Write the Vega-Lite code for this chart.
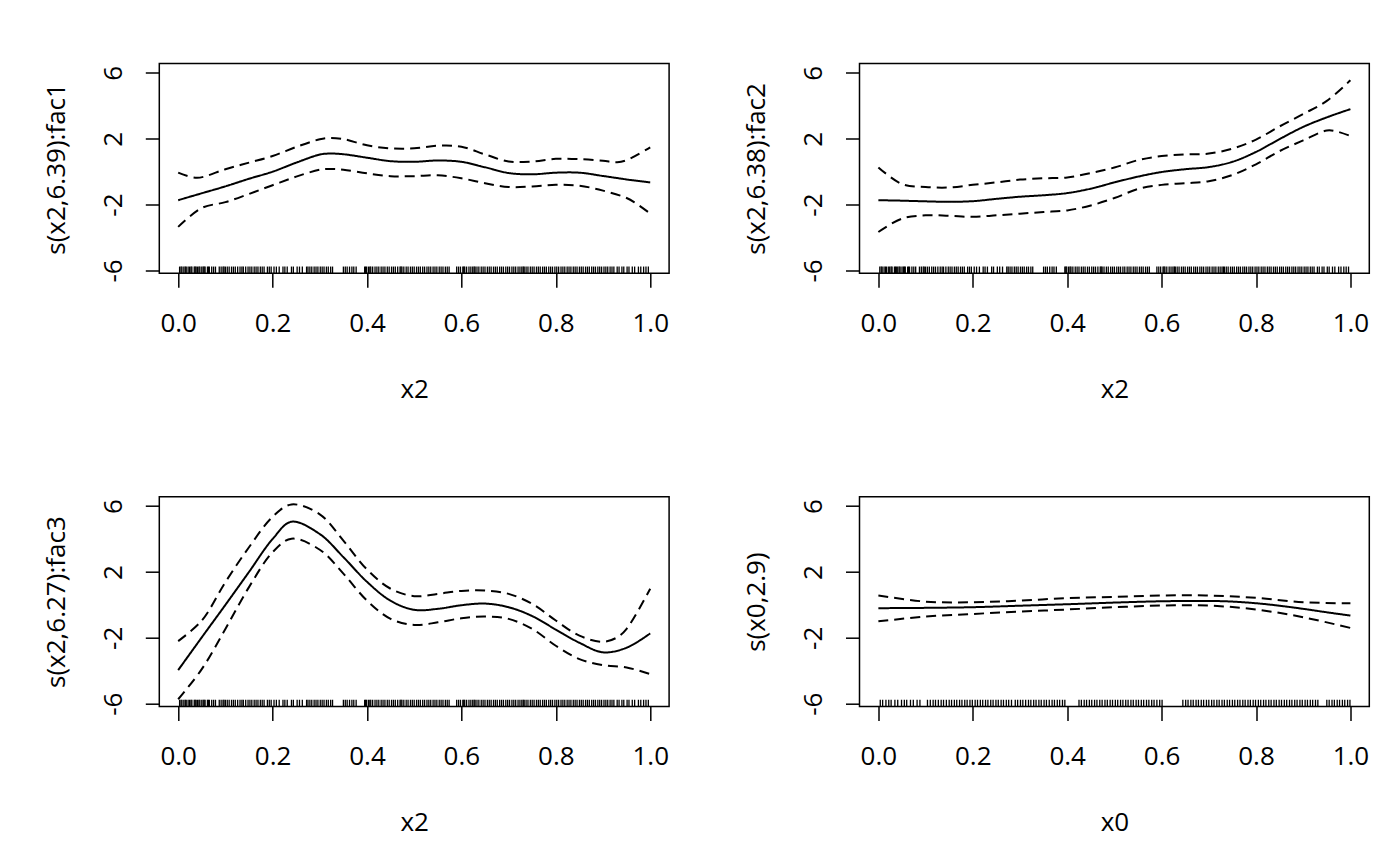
{
  "$schema": "https://vega.github.io/schema/vega-lite/v6.json",
  "autosize": {"type": "none"},
  "padding": {"left": 159.3, "top": 63.5, "right": 1240.7, "bottom": 802.5},
  "background": "white",
  "config": {
    "font": "Open Sans",
    "view": {"stroke": "black", "strokeWidth": 1.5, "fill": "white"},
    "axis": {
      "domain": false, "grid": false, "tickColor": "black", "tickWidth": 1.5, "tickSize": 14,
      "labelColor": "black", "labelFontSize": 26, "labelFont": "Open Sans", "labelFlush": false, "labelOverlap": false,
      "titleColor": "black", "titleFontSize": 26, "titleFont": "Open Sans", "titleFontWeight": "normal"
    },
    "axisX": {"labelBaseline": "alphabetic", "labelPadding": 43.7, "titleBaseline": "alphabetic", "titleY": 124, "titleX": 254.9, "titleAlign": "center"},
    "axisY": {"labelAngle": -90, "labelAlign": "center", "labelBaseline": "alphabetic", "labelPadding": 24.3, "titleAngle": -90, "titleBaseline": "alphabetic", "titleX": -95, "titleY": 104.9, "titleAlign": "center"}
  },
  "bounds": "flush",
  "columns": 2,
  "spacing": {"row": 223.2, "column": 190.2},
  "datasets": {
    "curves": [
      {"p":1,"s":"fit","x":0,"y":-1.73},{"p":1,"s":"fit","x":0.05,"y":-1.31},{"p":1,"s":"fit","x":0.1,"y":-0.89},{"p":1,"s":"fit","x":0.15,"y":-0.43},{"p":1,"s":"fit","x":0.2,"y":0},{"p":1,"s":"fit","x":0.25,"y":0.55},{"p":1,"s":"fit","x":0.3,"y":1.04},{"p":1,"s":"fit","x":0.32,"y":1.1},{"p":1,"s":"fit","x":0.35,"y":1.06},{"p":1,"s":"fit","x":0.4,"y":0.85},{"p":1,"s":"fit","x":0.45,"y":0.64},{"p":1,"s":"fit","x":0.5,"y":0.6},{"p":1,"s":"fit","x":0.55,"y":0.68},{"p":1,"s":"fit","x":0.6,"y":0.6},{"p":1,"s":"fit","x":0.65,"y":0.27},{"p":1,"s":"fit","x":0.7,"y":-0.08},{"p":1,"s":"fit","x":0.75,"y":-0.16},{"p":1,"s":"fit","x":0.8,"y":-0.06},{"p":1,"s":"fit","x":0.85,"y":-0.06},{"p":1,"s":"fit","x":0.9,"y":-0.26},{"p":1,"s":"fit","x":0.95,"y":-0.47},{"p":1,"s":"fit","x":1.0,"y":-0.65},
      {"p":1,"s":"upper","x":0,"y":-0.06},{"p":1,"s":"upper","x":0.04,"y":-0.37},{"p":1,"s":"upper","x":0.1,"y":0.15},{"p":1,"s":"upper","x":0.15,"y":0.55},{"p":1,"s":"upper","x":0.2,"y":0.95},{"p":1,"s":"upper","x":0.25,"y":1.5},{"p":1,"s":"upper","x":0.3,"y":1.97},{"p":1,"s":"upper","x":0.32,"y":2.05},{"p":1,"s":"upper","x":0.35,"y":1.98},{"p":1,"s":"upper","x":0.4,"y":1.6},{"p":1,"s":"upper","x":0.45,"y":1.42},{"p":1,"s":"upper","x":0.5,"y":1.42},{"p":1,"s":"upper","x":0.55,"y":1.58},{"p":1,"s":"upper","x":0.6,"y":1.52},{"p":1,"s":"upper","x":0.65,"y":1.05},{"p":1,"s":"upper","x":0.7,"y":0.62},{"p":1,"s":"upper","x":0.75,"y":0.62},{"p":1,"s":"upper","x":0.8,"y":0.78},{"p":1,"s":"upper","x":0.85,"y":0.76},{"p":1,"s":"upper","x":0.9,"y":0.66},{"p":1,"s":"upper","x":0.93,"y":0.57},{"p":1,"s":"upper","x":0.95,"y":0.7},{"p":1,"s":"upper","x":1.0,"y":1.48},
      {"p":1,"s":"lower","x":0,"y":-3.35},{"p":1,"s":"lower","x":0.05,"y":-2.2},{"p":1,"s":"lower","x":0.1,"y":-1.85},{"p":1,"s":"lower","x":0.15,"y":-1.35},{"p":1,"s":"lower","x":0.2,"y":-0.82},{"p":1,"s":"lower","x":0.25,"y":-0.3},{"p":1,"s":"lower","x":0.3,"y":0.12},{"p":1,"s":"lower","x":0.32,"y":0.17},{"p":1,"s":"lower","x":0.35,"y":0.12},{"p":1,"s":"lower","x":0.4,"y":-0.1},{"p":1,"s":"lower","x":0.45,"y":-0.27},{"p":1,"s":"lower","x":0.5,"y":-0.27},{"p":1,"s":"lower","x":0.55,"y":-0.22},{"p":1,"s":"lower","x":0.6,"y":-0.4},{"p":1,"s":"lower","x":0.65,"y":-0.7},{"p":1,"s":"lower","x":0.7,"y":-0.93},{"p":1,"s":"lower","x":0.75,"y":-0.9},{"p":1,"s":"lower","x":0.8,"y":-0.8},{"p":1,"s":"lower","x":0.85,"y":-0.85},{"p":1,"s":"lower","x":0.9,"y":-1.15},{"p":1,"s":"lower","x":0.95,"y":-1.6},{"p":1,"s":"lower","x":0.97,"y":-1.93},{"p":1,"s":"lower","x":1.0,"y":-2.54},

      {"p":2,"s":"fit","x":0,"y":-1.73},{"p":2,"s":"fit","x":0.05,"y":-1.76},{"p":2,"s":"fit","x":0.1,"y":-1.8},{"p":2,"s":"fit","x":0.15,"y":-1.83},{"p":2,"s":"fit","x":0.2,"y":-1.79},{"p":2,"s":"fit","x":0.25,"y":-1.65},{"p":2,"s":"fit","x":0.3,"y":-1.52},{"p":2,"s":"fit","x":0.35,"y":-1.43},{"p":2,"s":"fit","x":0.4,"y":-1.3},{"p":2,"s":"fit","x":0.45,"y":-1.03},{"p":2,"s":"fit","x":0.5,"y":-0.65},{"p":2,"s":"fit","x":0.55,"y":-0.3},{"p":2,"s":"fit","x":0.6,"y":-0.02},{"p":2,"s":"fit","x":0.65,"y":0.15},{"p":2,"s":"fit","x":0.7,"y":0.28},{"p":2,"s":"fit","x":0.75,"y":0.6},{"p":2,"s":"fit","x":0.8,"y":1.2},{"p":2,"s":"fit","x":0.85,"y":1.98},{"p":2,"s":"fit","x":0.9,"y":2.72},{"p":2,"s":"fit","x":0.95,"y":3.3},{"p":2,"s":"fit","x":1.0,"y":3.8},
      {"p":2,"s":"upper","x":0,"y":0.26},{"p":2,"s":"upper","x":0.05,"y":-0.75},{"p":2,"s":"upper","x":0.1,"y":-0.93},{"p":2,"s":"upper","x":0.15,"y":-0.96},{"p":2,"s":"upper","x":0.2,"y":-0.8},{"p":2,"s":"upper","x":0.25,"y":-0.65},{"p":2,"s":"upper","x":0.3,"y":-0.48},{"p":2,"s":"upper","x":0.35,"y":-0.4},{"p":2,"s":"upper","x":0.4,"y":-0.35},{"p":2,"s":"upper","x":0.45,"y":-0.08},{"p":2,"s":"upper","x":0.5,"y":0.25},{"p":2,"s":"upper","x":0.55,"y":0.7},{"p":2,"s":"upper","x":0.6,"y":0.95},{"p":2,"s":"upper","x":0.65,"y":1.05},{"p":2,"s":"upper","x":0.7,"y":1.1},{"p":2,"s":"upper","x":0.75,"y":1.4},{"p":2,"s":"upper","x":0.8,"y":1.95},{"p":2,"s":"upper","x":0.85,"y":2.75},{"p":2,"s":"upper","x":0.9,"y":3.5},{"p":2,"s":"upper","x":0.95,"y":4.3},{"p":2,"s":"upper","x":1.0,"y":5.55},
      {"p":2,"s":"lower","x":0,"y":-3.66},{"p":2,"s":"lower","x":0.05,"y":-2.85},{"p":2,"s":"lower","x":0.1,"y":-2.65},{"p":2,"s":"lower","x":0.15,"y":-2.68},{"p":2,"s":"lower","x":0.2,"y":-2.74},{"p":2,"s":"lower","x":0.25,"y":-2.65},{"p":2,"s":"lower","x":0.3,"y":-2.55},{"p":2,"s":"lower","x":0.35,"y":-2.45},{"p":2,"s":"lower","x":0.4,"y":-2.35},{"p":2,"s":"lower","x":0.45,"y":-2.05},{"p":2,"s":"lower","x":0.5,"y":-1.6},{"p":2,"s":"lower","x":0.55,"y":-1.05},{"p":2,"s":"lower","x":0.6,"y":-0.8},{"p":2,"s":"lower","x":0.65,"y":-0.7},{"p":2,"s":"lower","x":0.7,"y":-0.58},{"p":2,"s":"lower","x":0.75,"y":-0.2},{"p":2,"s":"lower","x":0.8,"y":0.45},{"p":2,"s":"lower","x":0.85,"y":1.25},{"p":2,"s":"lower","x":0.9,"y":1.9},{"p":2,"s":"lower","x":0.95,"y":2.5},{"p":2,"s":"lower","x":0.97,"y":2.45},{"p":2,"s":"lower","x":1.0,"y":2.17},

      {"p":3,"s":"fit","x":0,"y":-3.96},{"p":3,"s":"fit","x":0.05,"y":-1.97},{"p":3,"s":"fit","x":0.1,"y":0.0},{"p":3,"s":"fit","x":0.15,"y":2.0},{"p":3,"s":"fit","x":0.2,"y":4.0},{"p":3,"s":"fit","x":0.24,"y":5.05},{"p":3,"s":"fit","x":0.3,"y":4.3},{"p":3,"s":"fit","x":0.35,"y":2.9},{"p":3,"s":"fit","x":0.4,"y":1.4},{"p":3,"s":"fit","x":0.45,"y":0.25},{"p":3,"s":"fit","x":0.5,"y":-0.3},{"p":3,"s":"fit","x":0.55,"y":-0.24},{"p":3,"s":"fit","x":0.6,"y":-0.02},{"p":3,"s":"fit","x":0.65,"y":0.08},{"p":3,"s":"fit","x":0.7,"y":-0.14},{"p":3,"s":"fit","x":0.75,"y":-0.68},{"p":3,"s":"fit","x":0.8,"y":-1.5},{"p":3,"s":"fit","x":0.85,"y":-2.3},{"p":3,"s":"fit","x":0.9,"y":-2.88},{"p":3,"s":"fit","x":0.95,"y":-2.6},{"p":3,"s":"fit","x":1.0,"y":-1.73},
      {"p":3,"s":"upper","x":0,"y":-2.2},{"p":3,"s":"upper","x":0.05,"y":-0.95},{"p":3,"s":"upper","x":0.1,"y":1.38},{"p":3,"s":"upper","x":0.15,"y":3.5},{"p":3,"s":"upper","x":0.2,"y":5.35},{"p":3,"s":"upper","x":0.24,"y":6.1},{"p":3,"s":"upper","x":0.3,"y":5.5},{"p":3,"s":"upper","x":0.35,"y":3.9},{"p":3,"s":"upper","x":0.4,"y":2.15},{"p":3,"s":"upper","x":0.45,"y":0.98},{"p":3,"s":"upper","x":0.5,"y":0.53},{"p":3,"s":"upper","x":0.55,"y":0.67},{"p":3,"s":"upper","x":0.6,"y":0.85},{"p":3,"s":"upper","x":0.65,"y":0.87},{"p":3,"s":"upper","x":0.7,"y":0.67},{"p":3,"s":"upper","x":0.75,"y":0.06},{"p":3,"s":"upper","x":0.8,"y":-0.95},{"p":3,"s":"upper","x":0.85,"y":-1.87},{"p":3,"s":"upper","x":0.9,"y":-2.24},{"p":3,"s":"upper","x":0.93,"y":-1.97},{"p":3,"s":"upper","x":0.95,"y":-1.45},{"p":3,"s":"upper","x":1.0,"y":0.98},
      {"p":3,"s":"lower","x":0,"y":-5.73},{"p":3,"s":"lower","x":0.05,"y":-3.9},{"p":3,"s":"lower","x":0.1,"y":-1.46},{"p":3,"s":"lower","x":0.15,"y":1.08},{"p":3,"s":"lower","x":0.2,"y":3.2},{"p":3,"s":"lower","x":0.24,"y":4.02},{"p":3,"s":"lower","x":0.3,"y":3.35},{"p":3,"s":"lower","x":0.35,"y":1.9},{"p":3,"s":"lower","x":0.4,"y":0.26},{"p":3,"s":"lower","x":0.45,"y":-0.85},{"p":3,"s":"lower","x":0.5,"y":-1.22},{"p":3,"s":"lower","x":0.55,"y":-1.06},{"p":3,"s":"lower","x":0.6,"y":-0.81},{"p":3,"s":"lower","x":0.65,"y":-0.71},{"p":3,"s":"lower","x":0.7,"y":-0.85},{"p":3,"s":"lower","x":0.75,"y":-1.46},{"p":3,"s":"lower","x":0.8,"y":-2.48},{"p":3,"s":"lower","x":0.85,"y":-3.29},{"p":3,"s":"lower","x":0.9,"y":-3.66},{"p":3,"s":"lower","x":0.95,"y":-3.8},{"p":3,"s":"lower","x":1.0,"y":-4.2},

      {"p":4,"s":"fit","x":0,"y":-0.2},{"p":4,"s":"fit","x":0.1,"y":-0.18},{"p":4,"s":"fit","x":0.2,"y":-0.14},{"p":4,"s":"fit","x":0.3,"y":-0.05},{"p":4,"s":"fit","x":0.4,"y":0.04},{"p":4,"s":"fit","x":0.5,"y":0.14},{"p":4,"s":"fit","x":0.6,"y":0.22},{"p":4,"s":"fit","x":0.7,"y":0.24},{"p":4,"s":"fit","x":0.75,"y":0.2},{"p":4,"s":"fit","x":0.8,"y":0.1},{"p":4,"s":"fit","x":0.85,"y":-0.05},{"p":4,"s":"fit","x":0.9,"y":-0.24},{"p":4,"s":"fit","x":0.95,"y":-0.45},{"p":4,"s":"fit","x":1.0,"y":-0.65},
      {"p":4,"s":"upper","x":0,"y":0.57},{"p":4,"s":"upper","x":0.1,"y":0.2},{"p":4,"s":"upper","x":0.2,"y":0.16},{"p":4,"s":"upper","x":0.3,"y":0.26},{"p":4,"s":"upper","x":0.4,"y":0.41},{"p":4,"s":"upper","x":0.5,"y":0.49},{"p":4,"s":"upper","x":0.6,"y":0.57},{"p":4,"s":"upper","x":0.7,"y":0.57},{"p":4,"s":"upper","x":0.8,"y":0.43},{"p":4,"s":"upper","x":0.9,"y":0.16},{"p":4,"s":"upper","x":1.0,"y":0.1},
      {"p":4,"s":"lower","x":0,"y":-1.0},{"p":4,"s":"lower","x":0.1,"y":-0.71},{"p":4,"s":"lower","x":0.2,"y":-0.55},{"p":4,"s":"lower","x":0.3,"y":-0.41},{"p":4,"s":"lower","x":0.4,"y":-0.28},{"p":4,"s":"lower","x":0.5,"y":-0.14},{"p":4,"s":"lower","x":0.6,"y":-0.04},{"p":4,"s":"lower","x":0.7,"y":-0.04},{"p":4,"s":"lower","x":0.8,"y":-0.28},{"p":4,"s":"lower","x":0.9,"y":-0.75},{"p":4,"s":"lower","x":1.0,"y":-1.4}
    ],
    "rug2": [
      {"v":0.003},{"v":0.006},{"v":0.008},{"v":0.012},{"v":0.015},{"v":0.017},{"v":0.021},{"v":0.024},{"v":0.027},{"v":0.029},{"v":0.034},{"v":0.036},{"v":0.038},{"v":0.041},{"v":0.044},{"v":0.046},{"v":0.05},{"v":0.053},{"v":0.055},{"v":0.057},{"v":0.062},{"v":0.064},{"v":0.066},{"v":0.071},{"v":0.075},{"v":0.079},{"v":0.087},{"v":0.091},{"v":0.095},{"v":0.097},{"v":0.1},{"v":0.104},{"v":0.108},{"v":0.113},{"v":0.117},{"v":0.121},{"v":0.126},{"v":0.131},{"v":0.135},{"v":0.138},{"v":0.143},{"v":0.148},{"v":0.152},{"v":0.156},{"v":0.161},{"v":0.165},{"v":0.169},{"v":0.174},{"v":0.178},{"v":0.182},{"v":0.189},{"v":0.193},{"v":0.197},{"v":0.203},{"v":0.208},{"v":0.214},{"v":0.222},{"v":0.226},{"v":0.231},{"v":0.24},{"v":0.244},{"v":0.252},{"v":0.257},{"v":0.263},{"v":0.272},{"v":0.275},{"v":0.279},{"v":0.283},{"v":0.288},{"v":0.292},{"v":0.296},{"v":0.301},{"v":0.305},{"v":0.309},{"v":0.314},{"v":0.318},{"v":0.323},{"v":0.327},{"v":0.35},{"v":0.354},{"v":0.358},{"v":0.363},{"v":0.368},{"v":0.372},{"v":0.377},{"v":0.395},{"v":0.397},{"v":0.399},{"v":0.403},{"v":0.406},{"v":0.408},{"v":0.412},{"v":0.417},{"v":0.421},{"v":0.425},{"v":0.43},{"v":0.434},{"v":0.438},{"v":0.443},{"v":0.447},{"v":0.452},{"v":0.456},{"v":0.46},{"v":0.465},{"v":0.47},{"v":0.472},{"v":0.474},{"v":0.478},{"v":0.483},{"v":0.487},{"v":0.492},{"v":0.496},{"v":0.5},{"v":0.505},{"v":0.509},{"v":0.513},{"v":0.518},{"v":0.522},{"v":0.527},{"v":0.531},{"v":0.535},{"v":0.54},{"v":0.544},{"v":0.548},{"v":0.553},{"v":0.557},{"v":0.561},{"v":0.566},{"v":0.57},{"v":0.574},{"v":0.59},{"v":0.594},{"v":0.598},{"v":0.603},{"v":0.605},{"v":0.607},{"v":0.611},{"v":0.616},{"v":0.62},{"v":0.624},{"v":0.627},{"v":0.629},{"v":0.633},{"v":0.637},{"v":0.642},{"v":0.646},{"v":0.65},{"v":0.655},{"v":0.659},{"v":0.663},{"v":0.668},{"v":0.672},{"v":0.676},{"v":0.681},{"v":0.685},{"v":0.689},{"v":0.694},{"v":0.698},{"v":0.702},{"v":0.707},{"v":0.711},{"v":0.715},{"v":0.72},{"v":0.724},{"v":0.728},{"v":0.731},{"v":0.733},{"v":0.737},{"v":0.741},{"v":0.746},{"v":0.75},{"v":0.754},{"v":0.759},{"v":0.763},{"v":0.767},{"v":0.772},{"v":0.776},{"v":0.78},{"v":0.785},{"v":0.789},{"v":0.793},{"v":0.798},{"v":0.802},{"v":0.806},{"v":0.811},{"v":0.815},{"v":0.819},{"v":0.824},{"v":0.828},{"v":0.832},{"v":0.837},{"v":0.841},{"v":0.845},{"v":0.85},{"v":0.854},{"v":0.858},{"v":0.863},{"v":0.867},{"v":0.871},{"v":0.876},{"v":0.88},{"v":0.884},{"v":0.889},{"v":0.893},{"v":0.897},{"v":0.902},{"v":0.906},{"v":0.91},{"v":0.915},{"v":0.919},{"v":0.923},{"v":0.93},{"v":0.934},{"v":0.94},{"v":0.944},{"v":0.951},{"v":0.955},{"v":0.962},{"v":0.967},{"v":0.975},{"v":0.98},{"v":0.986},{"v":0.991},{"v":0.996}
    ],
    "rug0": [
      {"v":0.004},{"v":0.009},{"v":0.016},{"v":0.022},{"v":0.027},{"v":0.035},{"v":0.041},{"v":0.049},{"v":0.055},{"v":0.06},{"v":0.068},{"v":0.074},{"v":0.082},{"v":0.088},{"v":0.104},{"v":0.11},{"v":0.116},{"v":0.121},{"v":0.127},{"v":0.133},{"v":0.138},{"v":0.144},{"v":0.15},{"v":0.155},{"v":0.161},{"v":0.166},{"v":0.172},{"v":0.177},{"v":0.183},{"v":0.188},{"v":0.194},{"v":0.199},{"v":0.205},{"v":0.21},{"v":0.216},{"v":0.221},{"v":0.227},{"v":0.232},{"v":0.238},{"v":0.243},{"v":0.249},{"v":0.254},{"v":0.26},{"v":0.265},{"v":0.271},{"v":0.276},{"v":0.282},{"v":0.29},{"v":0.295},{"v":0.301},{"v":0.306},{"v":0.312},{"v":0.318},{"v":0.323},{"v":0.329},{"v":0.334},{"v":0.34},{"v":0.345},{"v":0.351},{"v":0.356},{"v":0.362},{"v":0.368},{"v":0.373},{"v":0.379},{"v":0.384},{"v":0.39},{"v":0.395},{"v":0.425},{"v":0.43},{"v":0.436},{"v":0.441},{"v":0.447},{"v":0.452},{"v":0.458},{"v":0.463},{"v":0.469},{"v":0.474},{"v":0.48},{"v":0.485},{"v":0.491},{"v":0.496},{"v":0.502},{"v":0.507},{"v":0.513},{"v":0.518},{"v":0.524},{"v":0.529},{"v":0.535},{"v":0.54},{"v":0.546},{"v":0.551},{"v":0.557},{"v":0.562},{"v":0.568},{"v":0.573},{"v":0.579},{"v":0.584},{"v":0.59},{"v":0.596},{"v":0.601},{"v":0.645},{"v":0.651},{"v":0.656},{"v":0.662},{"v":0.667},{"v":0.673},{"v":0.678},{"v":0.684},{"v":0.689},{"v":0.695},{"v":0.7},{"v":0.706},{"v":0.711},{"v":0.717},{"v":0.722},{"v":0.728},{"v":0.733},{"v":0.739},{"v":0.744},{"v":0.75},{"v":0.755},{"v":0.761},{"v":0.766},{"v":0.772},{"v":0.777},{"v":0.783},{"v":0.788},{"v":0.794},{"v":0.799},{"v":0.805},{"v":0.81},{"v":0.816},{"v":0.821},{"v":0.827},{"v":0.832},{"v":0.838},{"v":0.843},{"v":0.849},{"v":0.854},{"v":0.86},{"v":0.865},{"v":0.871},{"v":0.876},{"v":0.882},{"v":0.887},{"v":0.893},{"v":0.898},{"v":0.904},{"v":0.909},{"v":0.915},{"v":0.92},{"v":0.926},{"v":0.931},{"v":0.95},{"v":0.955},{"v":0.961},{"v":0.966},{"v":0.972},{"v":0.977},{"v":0.983},{"v":0.988},{"v":0.994},{"v":0.999}
    ]
  },
  "concat": [
    {
      "width": 509.8, "height": 209.8,
      "layer": [
        {"data": {"name": "rug2"}, "mark": {"type": "rule", "color": "black", "strokeWidth": 1.3},
         "encoding": {"x": {"field": "v", "type": "quantitative", "scale": {"domain": [-0.04, 1.04], "nice": false, "zero": false}, "axis": {"values": [0, 0.2, 0.4, 0.6, 0.8, 1.0], "format": ".1f", "title": "x2"}},
                      "y": {"datum": -6.17, "type": "quantitative", "scale": {"domain": [-6.17, 6.57], "nice": false, "zero": false}, "axis": {"values": [-6, -4, -2, 0, 2, 4, 6], "labelExpr": "abs(datum.value % 4) == 2 ? datum.value + '' : ''", "title": "s(x2,6.39):fac1"}},
                      "y2": {"datum": -5.76}}},
        {"data": {"name": "curves"}, "transform": [{"filter": "datum.p == 1"}], "mark": {"type": "line", "color": "black", "strokeWidth": 2, "interpolate": "catmull-rom"},
         "encoding": {"x": {"field": "x", "type": "quantitative"}, "y": {"field": "y", "type": "quantitative"}, "detail": {"field": "s"},
                      "strokeDash": {"field": "s", "type": "nominal", "scale": {"domain": ["fit", "upper", "lower"], "range": [[1, 0], [10, 6], [10, 6]]}, "legend": null}}}
      ]
    },
    {
      "width": 509.8, "height": 209.8,
      "layer": [
        {"data": {"name": "rug2"}, "mark": {"type": "rule", "color": "black", "strokeWidth": 1.3},
         "encoding": {"x": {"field": "v", "type": "quantitative", "scale": {"domain": [-0.04, 1.04], "nice": false, "zero": false}, "axis": {"values": [0, 0.2, 0.4, 0.6, 0.8, 1.0], "format": ".1f", "title": "x2"}},
                      "y": {"datum": -6.17, "type": "quantitative", "scale": {"domain": [-6.17, 6.57], "nice": false, "zero": false}, "axis": {"values": [-6, -4, -2, 0, 2, 4, 6], "labelExpr": "abs(datum.value % 4) == 2 ? datum.value + '' : ''", "title": "s(x2,6.38):fac2"}},
                      "y2": {"datum": -5.76}}},
        {"data": {"name": "curves"}, "transform": [{"filter": "datum.p == 2"}], "mark": {"type": "line", "color": "black", "strokeWidth": 2, "interpolate": "catmull-rom"},
         "encoding": {"x": {"field": "x", "type": "quantitative"}, "y": {"field": "y", "type": "quantitative"}, "detail": {"field": "s"},
                      "strokeDash": {"field": "s", "type": "nominal", "scale": {"domain": ["fit", "upper", "lower"], "range": [[1, 0], [10, 6], [10, 6]]}, "legend": null}}}
      ]
    },
    {
      "width": 509.8, "height": 209.8,
      "layer": [
        {"data": {"name": "rug2"}, "mark": {"type": "rule", "color": "black", "strokeWidth": 1.3},
         "encoding": {"x": {"field": "v", "type": "quantitative", "scale": {"domain": [-0.04, 1.04], "nice": false, "zero": false}, "axis": {"values": [0, 0.2, 0.4, 0.6, 0.8, 1.0], "format": ".1f", "title": "x2"}},
                      "y": {"datum": -6.17, "type": "quantitative", "scale": {"domain": [-6.17, 6.57], "nice": false, "zero": false}, "axis": {"values": [-6, -4, -2, 0, 2, 4, 6], "labelExpr": "abs(datum.value % 4) == 2 ? datum.value + '' : ''", "title": "s(x2,6.27):fac3"}},
                      "y2": {"datum": -5.76}}},
        {"data": {"name": "curves"}, "transform": [{"filter": "datum.p == 3"}], "mark": {"type": "line", "color": "black", "strokeWidth": 2, "interpolate": "catmull-rom"},
         "encoding": {"x": {"field": "x", "type": "quantitative"}, "y": {"field": "y", "type": "quantitative"}, "detail": {"field": "s"},
                      "strokeDash": {"field": "s", "type": "nominal", "scale": {"domain": ["fit", "upper", "lower"], "range": [[1, 0], [10, 6], [10, 6]]}, "legend": null}}}
      ]
    },
    {
      "width": 509.8, "height": 209.8,
      "layer": [
        {"data": {"name": "rug0"}, "mark": {"type": "rule", "color": "black", "strokeWidth": 1.3},
         "encoding": {"x": {"field": "v", "type": "quantitative", "scale": {"domain": [-0.04, 1.04], "nice": false, "zero": false}, "axis": {"values": [0, 0.2, 0.4, 0.6, 0.8, 1.0], "format": ".1f", "title": "x0"}},
                      "y": {"datum": -6.17, "type": "quantitative", "scale": {"domain": [-6.17, 6.57], "nice": false, "zero": false}, "axis": {"values": [-6, -4, -2, 0, 2, 4, 6], "labelExpr": "abs(datum.value % 4) == 2 ? datum.value + '' : ''", "title": "s(x0,2.9)"}},
                      "y2": {"datum": -5.76}}},
        {"data": {"name": "curves"}, "transform": [{"filter": "datum.p == 4"}], "mark": {"type": "line", "color": "black", "strokeWidth": 2, "interpolate": "catmull-rom"},
         "encoding": {"x": {"field": "x", "type": "quantitative"}, "y": {"field": "y", "type": "quantitative"}, "detail": {"field": "s"},
                      "strokeDash": {"field": "s", "type": "nominal", "scale": {"domain": ["fit", "upper", "lower"], "range": [[1, 0], [10, 6], [10, 6]]}, "legend": null}}}
      ]
    }
  ]
}
